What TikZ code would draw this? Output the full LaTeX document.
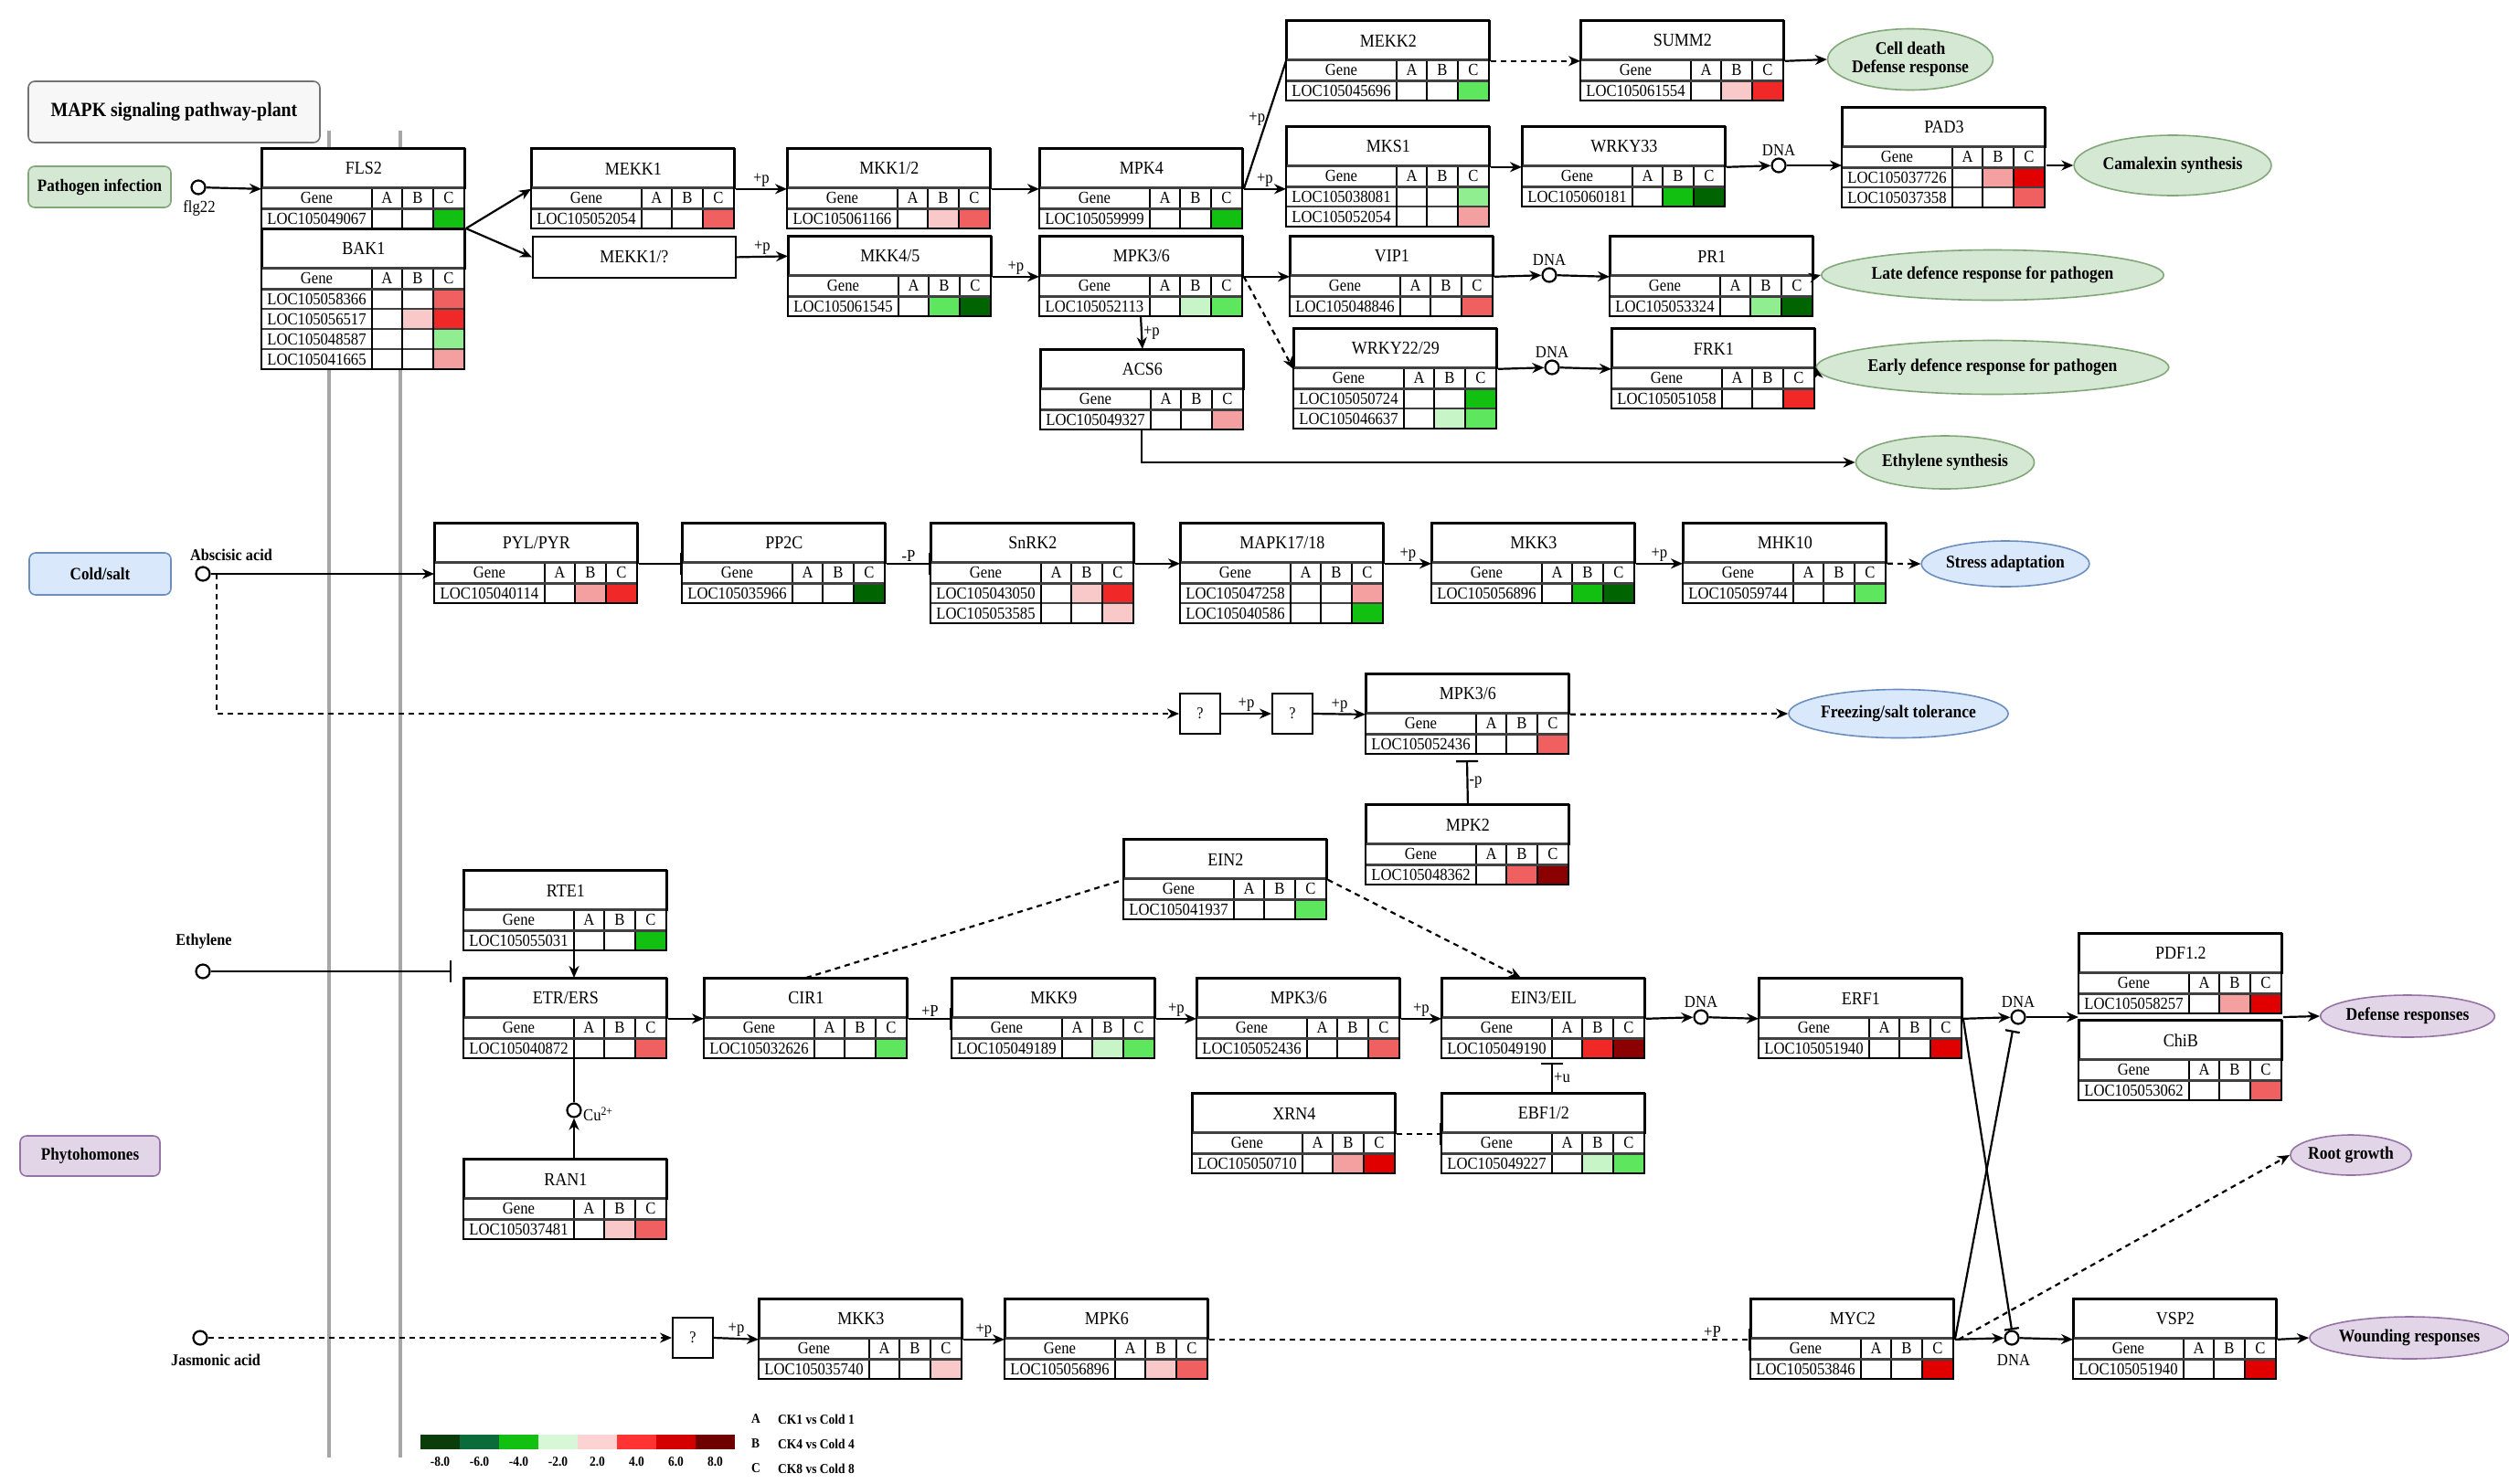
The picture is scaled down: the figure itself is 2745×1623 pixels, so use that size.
\documentclass[tikz,border=0pt]{standalone}
\usepackage{fontspec}
\setmainfont[FakeStretch=0.9]{Liberation Serif}
\usetikzlibrary{arrows.meta,shapes.geometric}
\definecolor{gDk}{HTML}{006400}
\definecolor{gMd}{HTML}{12C012}
\definecolor{gLt}{HTML}{5EE65E}
\definecolor{gLt2}{HTML}{90EE90}
\definecolor{gPl}{HTML}{C8F5C8}
\definecolor{rPl}{HTML}{F9C9C9}
\definecolor{rLt}{HTML}{F4A0A0}
\definecolor{rMd}{HTML}{F06060}
\definecolor{rRd}{HTML}{F02828}
\definecolor{rSt}{HTML}{E00000}
\definecolor{rDk}{HTML}{8B0000}
\definecolor{eG}{HTML}{D5E8D4}\definecolor{eGd}{HTML}{82A87A}
\definecolor{eB}{HTML}{DAE8FC}\definecolor{eBd}{HTML}{6C8EBF}
\definecolor{eP}{HTML}{E1D5E7}\definecolor{ePd}{HTML}{9673A6}
\definecolor{lg1}{HTML}{0B3D0B}\definecolor{lg2}{HTML}{0B6B3A}
\definecolor{lg3}{HTML}{11C011}\definecolor{lg4}{HTML}{D6F8D6}
\definecolor{lg5}{HTML}{FCD2D2}\definecolor{lg6}{HTML}{FF3333}
\definecolor{lg7}{HTML}{D40000}\definecolor{lg8}{HTML}{6E0000}

\newcommand\genebox[5]{%
  \node[ttl] (#1) at (#2,#3) {#4};
  \fill[white] (#2,#3+43) rectangle (#2+222,#3+66);
  \foreach \loc/\ca/\cb/\cc [count=\i] in {#5}{%
    \pgfmathsetmacro\yy{#3+66+(\i-1)*22}%
    \fill[white] (#2,\yy) rectangle (#2+121,\yy+22);
    \fill[\ca] (#2+121,\yy) rectangle (#2+154,\yy+22);
    \fill[\cb] (#2+154,\yy) rectangle (#2+188,\yy+22);
    \fill[\cc] (#2+188,\yy) rectangle (#2+222,\yy+22);
    \draw[rowln] (#2,\yy) -- (#2+222,\yy);
    \node[txt] (#1-l\i) at (#2+60.5,\yy+11) {\loc};
    \xdef\nrows{\i}%
  }%
  \pgfmathsetmacro\yb{#3+66+\nrows*22}%
  \draw[colln] (#2+121,#3+43) -- (#2+121,\yb) (#2+154,#3+43) -- (#2+154,\yb) (#2+188,#3+43) -- (#2+188,\yb);
  \draw[hdln] (#2,#3+66) -- (#2+222,#3+66);
  \draw[hdln] (#2,#3+43) -- (#2+222,#3+43);
  \draw[boxln] (#2,#3) rectangle (#2+222,\yb);
  \node[txt] (#1-hg) at (#2+60.5,#3+54.5) {Gene};
  \node[txt] (#1-ha) at (#2+137.5,#3+54.5) {A};
  \node[txt] (#1-hb) at (#2+171,#3+54.5) {B};
  \node[txt] (#1-hc) at (#2+205,#3+54.5) {C};
  \coordinate (#1-bot) at (#2+111,\yb);
  \coordinate (#1-bc) at (#2+121,\yb);
}

\begin{document}
\begin{tikzpicture}[x=1pt,y=-1pt,
  ttl/.style={draw,line width=1.8pt,anchor=north west,minimum width=222pt,minimum height=43pt,inner sep=0pt,fill=white,font=\fontsize{20}{22}\selectfont},
  txt/.style={inner sep=0pt,font=\fontsize{18.5}{20}\selectfont},
  rowln/.style={line width=1.4pt,draw=black!75},
  hdln/.style={line width=3pt,draw=black!75},
  colln/.style={line width=1.4pt},
  boxln/.style={line width=1.8pt},
  con/.style={line width=2.2pt},
  arr/.style={con,-{Stealth[length=13pt,width=11pt]}},
  inh/.style={con,-{Bar[width=24pt]}},
  dsh/.style={dash pattern=on 6pt off 5pt},
  lbl/.style={inner sep=1pt,font=\fontsize{18.5}{20}\selectfont},
  blbl/.style={inner sep=1pt,font=\bfseries\fontsize{18}{20}\selectfont},
  circ/.style={circle,draw,line width=2.2pt,minimum size=15pt,inner sep=0pt,fill=white},
  ell/.style={ellipse,draw,line width=1.6pt,inner sep=0pt,align=center,font=\bfseries\fontsize{19.5}{20}\selectfont},
  ellg/.style={ell,fill=eG,draw=eGd},
  ellb/.style={ell,fill=eB,draw=eBd},
  ellp/.style={ell,fill=eP,draw=ePd},
  cat/.style={rounded corners=7pt,draw,line width=1.6pt,inner sep=0pt,align=center,font=\bfseries\fontsize{19}{21}\selectfont},
  memb/.style={line width=4pt,draw=black!35},
  qbox/.style={draw,line width=2pt,minimum width=44pt,minimum height=44pt,inner sep=0pt,fill=white,font=\fontsize{18}{20}\selectfont},
  lgt/.style={inner sep=0pt,font=\bfseries\fontsize{15}{17}\selectfont}
]
\fill[white] (0,0) rectangle (2745,1623);
\useasboundingbox (0,0) rectangle (2745,1623);

% membrane
\draw[memb] (360,143) -- (360,1595);
\draw[memb] (438,143) -- (438,1595);

% categories
\node[cat,fill=black!3,draw=black!55,minimum width=319pt,minimum height=67pt,font=\bfseries\fontsize{22}{24}\selectfont] (title) at (190.5,122.5) {MAPK signaling pathway-plant};
\node[cat,fill=eG,draw=eGd,minimum width=156pt,minimum height=45pt] (pathogen) at (109,204.5) {Pathogen infection};
\node[cat,fill=eB,draw=eBd,minimum width=155pt,minimum height=46pt] (cold) at (109.5,628) {Cold/salt};
\node[cat,fill=eP,draw=ePd,minimum width=153pt,minimum height=44pt] (phyto) at (98.5,1265) {Phytohomones};

% ===== pathogen =====
\genebox{fls2}{286}{162}{FLS2}{LOC105049067/white/white/gMd}
\genebox{bak1}{286}{250}{BAK1}{LOC105058366/white/white/rMd,LOC105056517/white/rPl/rRd,LOC105048587/white/white/gLt2,LOC105041665/white/white/rLt}
\genebox{mekk1}{581}{162}{MEKK1}{LOC105052054/white/white/rMd}
\node[ttl,minimum height=45pt] (mekkq) at (582,258) {MEKK1/?};
\genebox{mkk12}{861}{162}{MKK1/2}{LOC105061166/white/rPl/rMd}
\genebox{mpk4}{1137}{162}{MPK4}{LOC105059999/white/white/gMd}
\genebox{mkk45}{862}{258}{MKK4/5}{LOC105061545/white/gLt/gDk}
\genebox{mpk36a}{1137}{258}{MPK3/6}{LOC105052113/white/gPl/gLt}
\genebox{acs6}{1138}{382}{ACS6}{LOC105049327/white/white/rLt}
\genebox{mekk2}{1407}{22}{MEKK2}{LOC105045696/white/white/gLt}
\genebox{summ2}{1729}{22}{SUMM2}{LOC105061554/white/rPl/rRd}
\genebox{mks1}{1407}{138}{MKS1}{LOC105038081/white/white/gLt2,LOC105052054/white/white/rLt}
\genebox{wrky33}{1665}{138}{WRKY33}{LOC105060181/white/gMd/gDk}
\genebox{pad3}{2015}{117}{PAD3}{LOC105037726/white/rLt/rSt,LOC105037358/white/white/rMd}
\genebox{vip1}{1411}{258}{VIP1}{LOC105048846/white/white/rMd}
\genebox{pr1}{1761}{258}{PR1}{LOC105053324/white/gLt2/gDk}
\genebox{wrky2229}{1415}{359}{WRKY22/29}{LOC105050724/white/white/gMd,LOC105046637/white/gPl/gLt}
\genebox{frk1}{1763}{359}{FRK1}{LOC105051058/white/white/rRd}

\node[circ] (flg) at (217,205) {};
\node[lbl] (flgt) at (218,228) {flg22};
\node[circ] (dna1) at (1946,181) {};
\node[lbl] (dna1t) at (1946,164) {DNA};
\node[circ] (dna2) at (1695,301) {};
\node[lbl] (dna2t) at (1695,284) {DNA};
\node[circ] (dna3) at (1698,402) {};
\node[lbl] (dna3t) at (1698,385) {DNA};

\node[ellg,minimum width=164pt,minimum height=67pt] (celldeath) at (2090,65) {Cell death\\Defense response};
\node[ellg,minimum width=166pt,minimum height=66pt] (camalexin) at (2377,181) {Camalexin synthesis};
\node[ellg,minimum width=282pt,minimum height=55pt] (late) at (2180,301) {Late defence response for pathogen};
\node[ellg,minimum width=278pt,minimum height=59pt] (early) at (2180,402) {Early defence response for pathogen};
\node[ellg,minimum width=163pt,minimum height=58pt] (ethsyn) at (2128,506) {Ethylene synthesis};

\draw[arr] (flg) -- (fls2.south west);
\draw[arr] (bak1.north east) -- (mekk1.south west);
\draw[arr] (bak1.north east) -- (mekkq.west);
\draw[arr] (mekk1.south east) -- node[lbl,above] (p1) {+p} (mkk12.south west);
\draw[arr] (mekkq.east) -- node[lbl,above] (p2) {+p} (mkk45.west);
\draw[arr] (mkk12.south east) -- (mpk4.south west);
\draw[arr] (mkk45.south east) -- node[lbl,above] (p3) {+p} (mpk36a.south west);
\draw[arr] (mpk36a-bot) -- node[lbl,right] (p4) {+p} (acs6.north);
\draw[arr] (acs6-bot) |- (ethsyn.west);
\draw[con] (mpk4.south east) -- node[lbl,left,pos=0.55] (p5) {+p} (mekk2.south west);
\draw[con] ([yshift=12pt]mekk2.south west) -- ([yshift=-12pt]mekk2.south west);
\draw[arr] (mpk4.south east) -- node[lbl,above] (p6) {+p} (mpk4.south east -| mks1.west);
\draw[arr] (mks1.south east) -- (wrky33.south west);
\draw[arr] (wrky33.south east) -- (dna1);
\draw[arr] (dna1) -- (dna1 -| pad3.west);
\draw[arr] (dna1 -| pad3.east) -- (camalexin.west);
\draw[arr,dsh] (mekk2.south east) -- (summ2.south west);
\draw[arr] (summ2.south east) -- (celldeath.west);
\draw[arr] (mpk36a.south east) -- (vip1.south west);
\draw[arr] (vip1.south east) -- (dna2);
\draw[arr] (dna2) -- (pr1.south west);
\draw[arr] (pr1.south east) -- (late.west);
\draw[arr,dsh] (mpk36a.south east) -- (wrky2229.south west);
\draw[arr] (wrky2229.south east) -- (dna3);
\draw[arr] (dna3) -- (frk1.south west);
\draw[arr] (frk1.south east) -- (early.west);

% ===== cold/salt =====
\node[circ] (aba) at (222,628) {};
\node[blbl] (abat) at (253,607) {Abscisic acid};
\genebox{pyl}{475}{572}{PYL/PYR}{LOC105040114/white/rLt/rRd}
\genebox{pp2c}{746}{572}{PP2C}{LOC105035966/white/white/gDk}
\genebox{snrk2}{1018}{572}{SnRK2}{LOC105043050/white/rPl/rRd,LOC105053585/white/white/rPl}
\genebox{mapk1718}{1291}{572}{MAPK17/18}{LOC105047258/white/white/rLt,LOC105040586/white/white/gMd}
\genebox{mkk3a}{1566}{572}{MKK3}{LOC105056896/white/gMd/gDk}
\genebox{mhk10}{1841}{572}{MHK10}{LOC105059744/white/white/gLt}
\node[qbox] (q1) at (1313,781) {?};
\node[qbox] (q2) at (1414,781) {?};
\genebox{mpk36b}{1494}{737}{MPK3/6}{LOC105052436/white/white/rMd}
\genebox{mpk2}{1494}{880}{MPK2}{LOC105048362/white/rMd/rDk}
\node[ellb,minimum width=147pt,minimum height=50pt] (stress) at (2194,617) {Stress adaptation};
\node[ellb,minimum width=172pt,minimum height=53pt] (freezing) at (2077,781) {Freezing/salt tolerance};

\draw[arr] (aba) -- (aba -| pyl.west);
\draw[inh] (pyl.south east) -- (pp2c.south west);
\draw[inh] (pp2c.south east) -- node[lbl,above] (p7) {-P} (snrk2.south west);
\draw[arr] (snrk2.south east) -- (mapk1718.south west);
\draw[arr] (mapk1718.south east) -- node[lbl,above] (p8) {+p} (mkk3a.south west);
\draw[arr] (mkk3a.south east) -- node[lbl,above] (p9) {+p} (mhk10.south west);
\draw[arr,dsh] (mhk10.south east) -- (stress.west);
\draw[arr,dsh] ([xshift=6pt]aba.east) |- (q1.west);
\draw[arr] (q1.east) -- node[lbl,above] (p10) {+p} (q2.west);
\draw[arr] (q2.east) -- node[lbl,above] (p11) {+p} (mpk36b.south west);
\draw[arr,dsh] (mpk36b.south east) -- (freezing.west);
\draw[inh] (mpk2.north) -- node[lbl,right] (p12) {-p} ([yshift=-7pt]mpk36b-bot);

% ===== ethylene =====
\node[circ] (eth) at (222,1063) {};
\node[blbl] (etht) at (223,1030) {Ethylene};
\coordinate (ethbar) at (494,1063);
\genebox{rte1}{507}{952}{RTE1}{LOC105055031/white/white/gMd}
\genebox{etr}{507}{1070}{ETR/ERS}{LOC105040872/white/white/rMd}
\genebox{cir1}{770}{1070}{CIR1}{LOC105032626/white/white/gLt}
\genebox{ran1}{507}{1268}{RAN1}{LOC105037481/white/rPl/rMd}
\node[circ] (cu) at (628,1215) {};
\node[lbl,anchor=west] (cut) at (637,1219) {Cu\textsuperscript{2+}};
\genebox{ein2}{1229}{918}{EIN2}{LOC105041937/white/white/gLt}
\genebox{mkk9}{1041}{1070}{MKK9}{LOC105049189/white/gPl/gLt}
\genebox{mpk36c}{1309}{1070}{MPK3/6}{LOC105052436/white/white/rMd}
\genebox{ein3}{1577}{1070}{EIN3/EIL}{LOC105049190/white/rRd/rDk}
\genebox{xrn4}{1304}{1196}{XRN4}{LOC105050710/white/rLt/rSt}
\genebox{ebf12}{1577}{1196}{EBF1/2}{LOC105049227/white/gPl/gLt}
\genebox{erf1}{1924}{1070}{ERF1}{LOC105051940/white/white/rSt}
\genebox{pdf12}{2274}{1021}{PDF1.2}{LOC105058257/white/rLt/rSt}
\genebox{chib}{2274}{1116}{ChiB}{LOC105053062/white/white/rMd}
\node[circ] (dna4) at (1861,1113) {};
\node[lbl] (dna4t) at (1861,1096) {DNA};
\node[circ] (dna5) at (2208,1113) {};
\node[lbl] (dna5t) at (2208,1096) {DNA};
\node[ellp,minimum width=162pt,minimum height=46pt] (defense) at (2634,1112) {Defense responses};
\node[ellp,minimum width=132pt,minimum height=44pt] (root) at (2572,1264) {Root growth};

\draw[inh] (eth) -- (ethbar);
\draw[arr] (rte1-bc) -- (rte1-bc |- etr.north);
\draw[con] (etr-bc) -- (cu.north);
\draw[arr] (ran1.north -| cu) -- (cu.south);
\draw[arr] (etr.south east) -- (cir1.south west);
\draw[con,dsh] (cir1.north) -- (ein2.south west);
\draw[con] ([yshift=12pt]ein2.south west) -- ([yshift=-12pt]ein2.south west);
\draw[arr,dsh] (ein2.south east) -- ([xshift=-25pt]ein3.north);
\draw[inh] (cir1.south east) -- node[lbl,above] (p13) {+P} (mkk9.south west);
\draw[arr] (mkk9.south east) -- node[lbl,above] (p14) {+p} (mpk36c.south west);
\draw[arr] (mpk36c.south east) -- node[lbl,above] (p15) {+p} (ein3.south west);
\draw[arr] (ein3.south east) -- (dna4);
\draw[arr] (dna4) -- (erf1.south west);
\draw[inh,dsh] (xrn4.south east) -- (ebf12.south west);
\draw[inh] (ein3-bc |- ebf12.north) -- node[lbl,right] (p16) {+u} ([yshift=-5pt]ein3-bc);
\draw[arr] (erf1.south east) -- (dna5);
\draw[arr] (dna5) -- (dna5 -| pdf12.west);
\draw[arr] (dna5 -| pdf12.east) -- (defense.west);

% ===== jasmonic acid =====
\node[circ] (ja) at (219,1464) {};
\node[blbl] (jat) at (236,1488) {Jasmonic acid};
\node[qbox] (qj) at (758,1464) {?};
\genebox{mkk3b}{830}{1421}{MKK3}{LOC105035740/white/white/rPl}
\genebox{mpk6}{1099}{1421}{MPK6}{LOC105056896/white/rPl/rMd}
\genebox{myc2}{1915}{1421}{MYC2}{LOC105053846/white/white/rSt}
\genebox{vsp2}{2268}{1421}{VSP2}{LOC105051940/white/white/rSt}
\node[circ] (dna6) at (2201,1464) {};
\node[lbl] (dna6t) at (2203,1488) {DNA};
\node[ellp,minimum width=183pt,minimum height=46pt] (wounding) at (2636,1464) {Wounding responses};

\draw[arr,dsh] (ja) -- (qj.west);
\draw[arr] (qj.east) -- node[lbl,above] (p17) {+p} (mkk3b.south west);
\draw[arr] (mkk3b.south east) -- node[lbl,above] (p18) {+p} (mpk6.south west);
\draw[inh,dsh] (mpk6.south east) -- node[lbl,above,pos=0.93] (p19) {+P} (myc2.south west);
\draw[arr] (myc2.south east) -- (dna6);
\draw[arr] (dna6) -- (vsp2.south west);
\draw[arr] (vsp2.south east) -- (wounding.west);
\draw[con,-{Bar[width=16pt]}] (erf1.south east) -- (dna6.north);
\draw[con,-{Bar[width=16pt]}] (myc2.south east) -- ([xshift=-6pt,yshift=-6pt]dna5.south);
\draw[arr,dsh] ([xshift=4pt]myc2.south east) -- (root.west);

% ===== legend =====
\foreach \c [count=\k] in {lg1,lg2,lg3,lg4,lg5,lg6,lg7,lg8}
  \fill[\c] (460+43*\k-43,1570) rectangle ++(43,16);
\foreach \v [count=\k] in {-8.0,-6.0,-4.0,-2.0,2.0,4.0,6.0,8.0}
  \node[lgt] (lgn\k) at (481.5+43*\k-43,1600) {\v};
\node[lgt,anchor=west] (lgA) at (822,1553) {A};
\node[lgt,anchor=west] (lgAt) at (851,1553) {CK1 vs Cold 1};
\node[lgt,anchor=west] (lgB) at (822,1580) {B};
\node[lgt,anchor=west] (lgBt) at (851,1580) {CK4 vs Cold 4};
\node[lgt,anchor=west] (lgC) at (822,1607) {C};
\node[lgt,anchor=west] (lgCt) at (851,1607) {CK8 vs Cold 8};
\end{tikzpicture}
\end{document}
